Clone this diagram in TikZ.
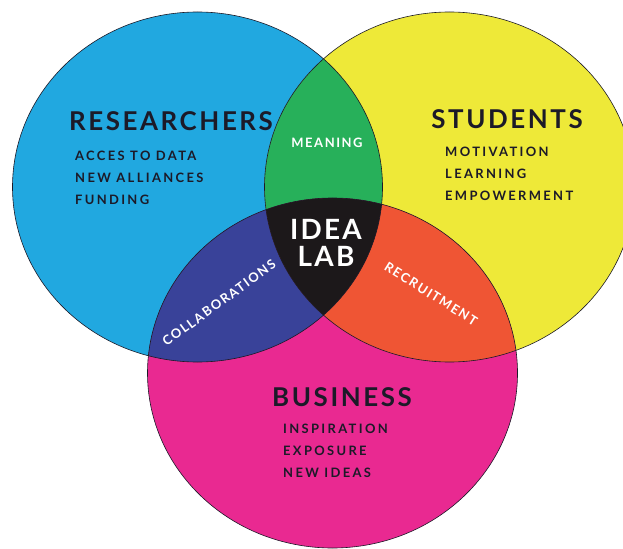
\documentclass[tikz,border=0pt]{standalone}
\usepackage{fontspec}
\setmainfont{Lato}
\usetikzlibrary{positioning}

\definecolor{resblue}{HTML}{21A8E0}
\definecolor{stuyellow}{HTML}{EEE938}
\definecolor{buspink}{HTML}{E92991}
\definecolor{meangreen}{HTML}{27B05A}
\definecolor{collabblue}{HTML}{394299}
\definecolor{recrred}{HTML}{EF5534}
\definecolor{labblack}{HTML}{1C181A}
\definecolor{inkdark}{HTML}{1C1A28}

\begin{document}
\begin{tikzpicture}[x=1bp,y=-1bp]
 \useasboundingbox (0,0) rectangle (623,549);
 \coordinate (res) at (197.5,187);
 \coordinate (stu) at (449.5,187);
 \coordinate (bus) at (332.5,373);

\tikzstyle{lobe}=[x radius=185bp,y radius=175bp]
\tikzstyle{heading}=[inner sep=0pt,text=inkdark,font=\bfseries\fontsize{26}{28}\selectfont\addfontfeatures{LetterSpace=10}]
\tikzstyle{item}=[inner sep=0pt,anchor=north west,align=left,text=inkdark,font=\bfseries\fontsize{13}{22}\selectfont\addfontfeatures{LetterSpace=18}]
\tikzstyle{overlap}=[inner sep=0pt,text=white,font=\bfseries\fontsize{13}{15}\selectfont\addfontfeatures{LetterSpace=12}]

   %draw circles
    \fill[resblue] (res) ellipse [lobe];
    \fill[stuyellow] (stu) ellipse [lobe];
    \fill[buspink] (bus) ellipse [lobe];

   %two-way overlaps
    \begin{scope}
     \clip (res) ellipse [lobe];
     \fill[meangreen] (stu) ellipse [lobe];
     \fill[collabblue] (bus) ellipse [lobe];
    \end{scope}
    \begin{scope}
     \clip (stu) ellipse [lobe];
     \fill[recrred] (bus) ellipse [lobe];
    \end{scope}

   %middle
    \begin{scope}
     \clip (res) ellipse [lobe];
     \clip (stu) ellipse [lobe];
     \fill[labblack] (bus) ellipse [lobe];
    \end{scope}

    \draw[inkdark,line width=0.6bp] (res) ellipse [lobe] (stu) ellipse [lobe] (bus) ellipse [lobe];

   %labels
    \node[heading] (researchers) at (171,121) {RESEARCHERS};
    \node[item] (resitems) at (75,151) {ACCES TO DATA\\NEW ALLIANCES\\FUNDING};

    \node[heading] (students) at (507,119) {STUDENTS};
    \node[item] (stuitems) at (445,147) {MOTIVATION\\LEARNING\\EMPOWERMENT};

    \node[heading] (business) at (342,397) {BUSINESS};
    \node[item] (busitems) at (283,424) {INSPIRATION\\EXPOSURE\\NEW IDEAS};

    \node[overlap] (meaning) at (327,143) {MEANING};
    \node[overlap,rotate=36] (collab) at (219,303) {COLLABORATIONS};
    \node[overlap,rotate=-32] (recruit) at (431,294) {RECRUITMENT};

    \node[inner sep=0pt,text=white,align=center,font=\bfseries\fontsize{28}{27}\selectfont\addfontfeatures{LetterSpace=8}] (idealab) at (326,243) {IDEA\\LAB};

\end{tikzpicture}
\end{document}
